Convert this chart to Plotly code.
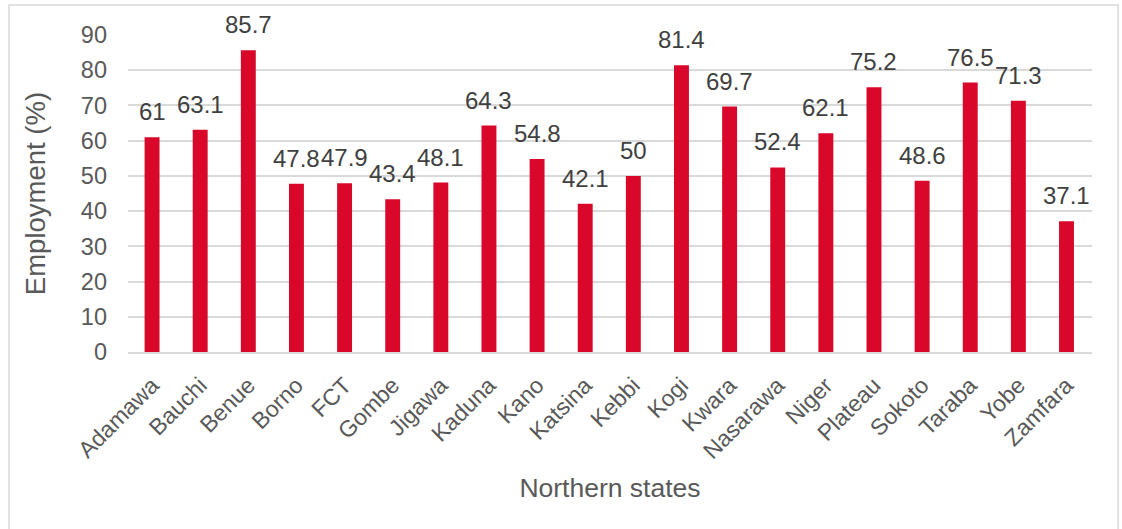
import plotly.graph_objects as go

states = ["Adamawa", "Bauchi", "Benue", "Borno", "FCT", "Gombe", "Jigawa", "Kaduna",
          "Kano", "Katsina", "Kebbi", "Kogi", "Kwara", "Nasarawa", "Niger", "Plateau",
          "Sokoto", "Taraba", "Yobe", "Zamfara"]
employment = [61, 63.1, 85.7, 47.8, 47.9, 43.4, 48.1, 64.3, 54.8, 42.1, 50, 81.4,
              69.7, 52.4, 62.1, 75.2, 48.6, 76.5, 71.3, 37.1]
y_ticks = [0, 10, 20, 30, 40, 50, 60, 70, 80, 90]

FONT = "Liberation Sans, Arial, sans-serif"
TICK = "#595959"

fig = go.Figure()
fig.add_trace(go.Bar(x=states, y=employment, marker=dict(color="#D9082A", line=dict(width=0)),
                     width=0.31, hoverinfo="x+y"))

for s, v in zip(states, employment):
    fig.add_annotation(x=s, y=v, text=f"{v:g}", showarrow=False, yanchor="bottom",
                       yshift=10, font=dict(family=FONT, size=24, color="#404040"))

# outer chart border
fig.add_shape(type="rect", xref="paper", yref="paper", x0=-0.1234, x1=1.027,
              y0=-0.6, y1=1.0946, line=dict(color="#D9D9D9", width=1.5), layer="below")

fig.update_layout(
    width=1122, height=529,
    margin=dict(l=128, r=30, t=35, b=177),
    paper_bgcolor="white", plot_bgcolor="white",
    showlegend=False,
    font=dict(family=FONT, color=TICK),
    xaxis=dict(tickangle=-45, tickfont=dict(size=23, color=TICK, family=FONT),
               showgrid=False, showline=True, linecolor="#D9D9D9", linewidth=1.5,
               ticks="", ticklabelstandoff=9,
               title=dict(text="Northern states", font=dict(size=26.5, color=TICK, family=FONT),
                          standoff=16)),
    yaxis=dict(range=[0, 90], tickvals=y_ticks, tickfont=dict(size=23.5, color=TICK, family=FONT),
               showgrid=True, gridcolor="#D9D9D9", gridwidth=1.5, zeroline=False,
               showline=False, ticks="", ticklabelstandoff=20,
               title=dict(text="Employment (%)", font=dict(size=27.5, color=TICK, family=FONT),
                          standoff=27)),
)

fig.write_html("out.html")
